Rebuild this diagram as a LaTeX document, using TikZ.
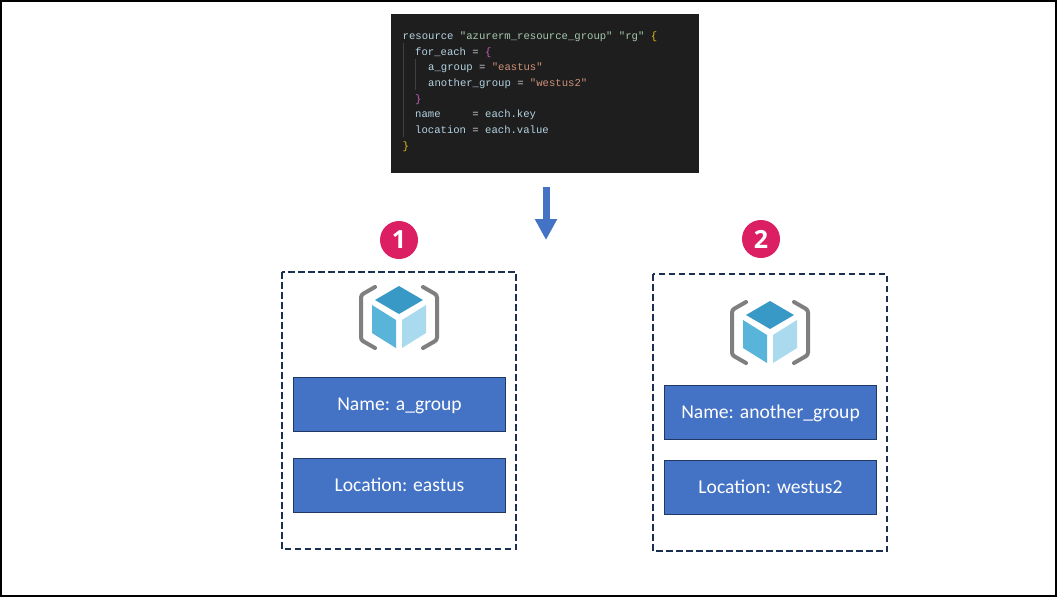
\documentclass[tikz,border=0pt]{standalone}
\usepackage{fontspec}
\usetikzlibrary{arrows.meta}
\setmainfont{Carlito}
\newfontfamily\codefont{Liberation Mono}
\newfontfamily\digitfont{Open Sans}
\definecolor{boxblue}{HTML}{4472C4}
\definecolor{boxedge}{HTML}{1F3864}
\definecolor{dashnavy}{HTML}{1B2F52}
\definecolor{badgepink}{HTML}{DB1F62}
\definecolor{codebg}{HTML}{1E1E1E}
\definecolor{codekey}{HTML}{B4D2E2}
\definecolor{codetxt}{HTML}{D4D4D4}
\definecolor{codetype}{HTML}{A6C9AE}
\definecolor{codestr}{HTML}{CE9178}
\definecolor{codegold}{HTML}{E8BE10}
\definecolor{codepurple}{HTML}{C65FC0}
\definecolor{guidegrey}{HTML}{404040}
\definecolor{cubetop}{HTML}{3999C6}
\definecolor{cubeleft}{HTML}{59B4D9}
\definecolor{cuberight}{HTML}{A9DAEE}
\definecolor{bracketgrey}{HTML}{7F7F7F}
\newcommand{\ckey}[1]{\textcolor{codekey}{#1}}
\newcommand{\cstr}[1]{\textcolor{codestr}{#1}}
\tikzset{
    fieldbox/.style={draw=boxedge, line width=0.8pt, fill=boxblue, text=white, minimum width=212pt, minimum height=54pt, inner sep=0pt, text height=16.5pt, text depth=4pt, font=\fontsize{19.6}{22}\selectfont},
    groupbox/.style={draw=dashnavy, line width=2pt, dash pattern=on 6.5pt off 3.5pt},
    badge/.style={circle, fill=badgepink, text=white, minimum size=38pt, inner sep=0pt, font=\digitfont\bfseries\fontsize{25}{25}\selectfont},
    codeline/.style={anchor=base west, inner sep=0pt, text=codetxt, font=\codefont\fontsize{10.6}{12}\selectfont},
    bracketline/.style={draw=bracketgrey, line width=4pt, line cap=round, rounded corners=2.5pt},
    rgicon/.pic={
        \fill[cubetop] (0,-31) -- (24,-17) -- (0,-3) -- (-24,-17) -- cycle;
        \fill[cubeleft] (-27,-12) -- (-3,3) -- (-3,31) -- (-27,16) -- cycle;
        \fill[cuberight] (27,-12) -- (3,3) -- (3,31) -- (27,16) -- cycle;
        \draw[bracketline] (-24,-30) -- (-38,-22) -- (-38,23) -- (-24,31);
        \draw[bracketline] (24,-30) -- (38,-22) -- (38,23) -- (24,31);
    }
}
\begin{document}
\begin{tikzpicture}[x=1pt,y=-1pt]
    \useasboundingbox (0,0) rectangle (1057,597);
    \draw[black, line width=2pt, fill=white] (1,1) rectangle (1056,596);

    \fill[codebg] (391,14) rectangle (699,173);
    \draw[guidegrey, line width=0.8pt] (403,43) -- (403,137);
    \draw[guidegrey, line width=0.8pt] (415.5,59) -- (415.5,90);
    \node[codeline] (line1) at (402.5,39.3) {\ckey{resource} \textcolor{codetype}{"azurerm\_resource\_group"} \textcolor{codetype}{"rg"} \textcolor{codegold}{\{}};
    \node[codeline] (line2) at (415,55) {\ckey{for\_each} = \textcolor{codepurple}{\{}};
    \node[codeline] (line3) at (428,70.7) {\ckey{a\_group} = \cstr{"eastus"}};
    \node[codeline] (line4) at (428,86.4) {\ckey{another\_group} = \cstr{"westus2"}};
    \node[codeline] (line5) at (415,102.1) {\textcolor{codepurple}{\}}};
    \node[codeline] (line6) at (415,117.8) {\ckey{name}\ \ \ \ \ = \ckey{each.key}};
    \node[codeline] (line7) at (415,133.5) {\ckey{location} = \ckey{each.value}};
    \node[codeline] (line8) at (402.5,149.2) {\textcolor{codegold}{\}}};

    \coordinate (arrowtop) at (546,187);
    \coordinate (arrowtip) at (546,240);
    \draw[boxblue, line width=7pt, -{Triangle[length=21pt,width=21pt]}] (arrowtop) -- (arrowtip);

    \node[badge] (badge1) at (399,240) {1};
    \node[badge] (badge2) at (761,239) {2};

    \draw[groupbox] (281.5,272) rectangle (516,549);
    \draw[groupbox] (653,274) rectangle (887,551);

    \pic at (399,317) {rgicon};
    \pic at (770,332) {rgicon};

    \node[fieldbox] (name1) at (399.5,404) {Name: a\_group};
    \node[fieldbox] (loc1) at (399.5,485) {Location: eastus};
    \node[fieldbox] (name2) at (770.5,412.5) {Name: another\_group};
    \node[fieldbox] (loc2) at (770.5,487.5) {Location: westus2};
\end{tikzpicture}
\end{document}
